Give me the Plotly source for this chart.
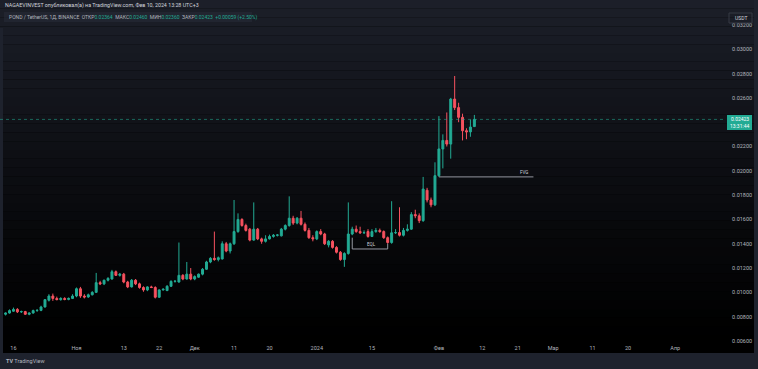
import plotly.graph_objects as go
import pandas as pd

# ---------------- data ----------------
dates = pd.date_range("2023-10-14", periods=120, freq="D")

opens = [0.00820,0.00830,0.00845,0.00860,0.00840,0.00842,0.00820,0.00830,0.00850,0.00852,
         0.00880,0.00935,0.00970,0.00950,0.00940,0.00950,0.00942,0.00950,0.00970,0.01030,
         0.00970,0.00962,0.00980,0.01000,0.01080,0.01070,0.01100,0.01110,0.01170,0.01140,
         0.01150,0.01085,0.01045,0.01100,0.01070,0.01040,0.01020,0.01045,0.01040,0.00960,
         0.01020,0.01015,0.01050,0.01090,0.01085,0.01140,0.01110,0.01150,0.01110,0.01125,
         0.01150,0.01190,0.01250,0.01280,0.01270,0.01275,0.01400,0.01340,0.01400,0.01500,
         0.01600,0.01550,0.01520,0.01430,0.01520,0.01440,0.01420,0.01440,0.01460,0.01470,
         0.01465,0.01520,0.01550,0.01610,0.01570,0.01610,0.01560,0.01510,0.01450,0.01440,
         0.01500,0.01480,0.01390,0.01420,0.01370,0.01330,0.01270,0.01320,0.01480,0.01520,
         0.01500,0.01490,0.01500,0.01460,0.01500,0.01510,0.01500,0.01450,0.01410,0.01490,
         0.01492,0.01470,0.01510,0.01520,0.01640,0.01630,0.01590,0.01840,0.01760,0.01720,
         0.01960,0.02180,0.02250,0.02220,0.02590,0.02520,0.02440,0.02330,0.02320,0.02364]
highs = [0.00835,0.00860,0.00875,0.00870,0.00850,0.00848,0.00835,0.00858,0.00862,0.00890,
         0.00945,0.00985,0.00990,0.00965,0.00960,0.00960,0.00958,0.00985,0.01040,0.01045,
         0.00985,0.00990,0.01010,0.01160,0.01095,0.01105,0.01125,0.01185,0.01180,0.01160,
         0.01160,0.01095,0.01110,0.01110,0.01080,0.01050,0.01050,0.01055,0.01050,0.01025,
         0.01035,0.01060,0.01100,0.01100,0.01410,0.01150,0.01250,0.01200,0.01140,0.01155,
         0.01200,0.01260,0.01290,0.01500,0.01295,0.01420,0.01415,0.01410,0.01760,0.01650,
         0.01610,0.01565,0.01530,0.01740,0.01530,0.01450,0.01470,0.01475,0.01480,0.01480,
         0.01530,0.01560,0.01790,0.01630,0.01620,0.01670,0.01575,0.01530,0.01470,0.01510,
         0.01520,0.01490,0.01430,0.01430,0.01380,0.01340,0.01330,0.01740,0.01540,0.01550,
         0.01540,0.01510,0.01520,0.01520,0.01530,0.01525,0.01510,0.01460,0.01750,0.01520,
         0.01700,0.01530,0.01560,0.01660,0.01680,0.01650,0.01950,0.01860,0.01780,0.02070,
         0.02450,0.02300,0.02480,0.02600,0.02780,0.02560,0.02470,0.02350,0.02420,0.02460]
lows = [0.00810,0.00825,0.00840,0.00830,0.00830,0.00815,0.00812,0.00825,0.00840,0.00845,
        0.00875,0.00925,0.00930,0.00935,0.00932,0.00935,0.00935,0.00945,0.00960,0.00955,
        0.00950,0.00955,0.00975,0.00995,0.01060,0.01060,0.01090,0.01105,0.01135,0.01130,
        0.01075,0.01035,0.01040,0.01060,0.01030,0.01005,0.01010,0.01035,0.00950,0.00955,
        0.01015,0.01010,0.01045,0.01080,0.01080,0.01100,0.01105,0.01100,0.01100,0.01120,
        0.01140,0.01185,0.01240,0.01260,0.01255,0.01270,0.01330,0.01320,0.01390,0.01490,
        0.01540,0.01500,0.01420,0.01425,0.01430,0.01400,0.01410,0.01435,0.01450,0.01460,
        0.01460,0.01510,0.01540,0.01555,0.01560,0.01550,0.01500,0.01440,0.01420,0.01430,
        0.01470,0.01390,0.01370,0.01360,0.01320,0.01260,0.01210,0.01310,0.01470,0.01490,
        0.01480,0.01480,0.01450,0.01455,0.01490,0.01490,0.01440,0.01400,0.01400,0.01480,
        0.01460,0.01460,0.01500,0.01515,0.01610,0.01570,0.01580,0.01740,0.01700,0.01710,
        0.01950,0.02020,0.02200,0.02100,0.02500,0.02400,0.02250,0.02260,0.02280,0.02360]
closes = [0.00830,0.00850,0.00860,0.00840,0.00842,0.00820,0.00830,0.00850,0.00852,0.00880,
          0.00940,0.00970,0.00950,0.00940,0.00950,0.00942,0.00950,0.00970,0.01030,0.00970,
          0.00962,0.00980,0.01000,0.01080,0.01070,0.01100,0.01115,0.01170,0.01140,0.01150,
          0.01085,0.01045,0.01100,0.01070,0.01040,0.01020,0.01045,0.01040,0.00960,0.01020,
          0.01025,0.01050,0.01090,0.01092,0.01140,0.01110,0.01150,0.01110,0.01130,0.01150,
          0.01190,0.01250,0.01280,0.01270,0.01285,0.01400,0.01340,0.01400,0.01500,0.01600,
          0.01550,0.01510,0.01430,0.01520,0.01440,0.01420,0.01440,0.01460,0.01470,0.01472,
          0.01520,0.01550,0.01610,0.01570,0.01610,0.01560,0.01510,0.01450,0.01440,0.01500,
          0.01480,0.01400,0.01420,0.01370,0.01330,0.01270,0.01320,0.01480,0.01520,0.01500,
          0.01490,0.01492,0.01460,0.01500,0.01510,0.01500,0.01450,0.01410,0.01490,0.01492,
          0.01470,0.01510,0.01520,0.01640,0.01630,0.01590,0.01850,0.01760,0.01720,0.01960,
          0.02180,0.02250,0.02220,0.02590,0.02520,0.02440,0.02330,0.02320,0.02360,0.02423]

last_price = 0.02423
fvg_level = 0.0195
fvg_dates = ["2024-02-01", "2024-02-25"]
eql_level = 0.01357
eql_dates = ["2024-01-10", "2024-01-19"]
eql_marks = [0.01450, 0.01400]

y_ticks = [0.006, 0.008, 0.010, 0.012, 0.014, 0.016, 0.018, 0.020, 0.022, 0.026, 0.028, 0.030, 0.032]
x_tick_dates = ["2023-10-16", "2023-11-01", "2023-11-13", "2023-11-22", "2023-12-01", "2023-12-11",
                "2023-12-20", "2024-01-01", "2024-01-15", "2024-02-01", "2024-02-12", "2024-02-21",
                "2024-03-01", "2024-03-11", "2024-03-20", "2024-04-01"]
x_tick_text = ["16", "Ноя", "13", "22", "Дек", "11", "20", "2024", "15", "Фев", "12", "21",
               "Мар", "11", "20", "Апр"]

# ---------------- styling ----------------
UP = "#22ab94"
DOWN = "#f7525f"
TXT = "#b2b5be"
FONT = "Roboto"
W, H = 758, 369
PANE_R = 725  # px right edge of price pane
PANE_B = 343
PANE_T = 10

fig = go.Figure()

fig.add_trace(go.Candlestick(
    x=dates, open=opens, high=highs, low=lows, close=closes,
    increasing=dict(line=dict(color=UP, width=1), fillcolor=UP),
    decreasing=dict(line=dict(color=DOWN, width=1), fillcolor=DOWN),
    whiskerwidth=0, hoverinfo="skip",
))

# FVG line
fig.add_trace(go.Scatter(x=fvg_dates, y=[fvg_level, fvg_level], mode="lines",
                         line=dict(color="#9598a1", width=1), hoverinfo="skip"))
# EQL bracket
fig.add_trace(go.Scatter(x=[eql_dates[0], eql_dates[0], eql_dates[1], eql_dates[1]],
                         y=[eql_marks[0], eql_level, eql_level, eql_marks[1]], mode="lines",
                         line=dict(color="#9598a1", width=1), hoverinfo="skip"))

shapes = []
# gradient background bands
n = 40
for k in range(n):
    t = k / (n - 1)
    r = int(28 * (1 - t) ** 1.2)
    g = int(31 * (1 - t) ** 1.2)
    b = int(41 * (1 - t) ** 1.2)
    shapes.append(dict(type="rect", xref="paper", yref="paper", x0=0, x1=1,
                       y0=1 - (k + 1) / n * 353 / H, y1=1 - k / n * 353 / H,
                       fillcolor=f"rgb({r},{g},{b})", line=dict(width=0), layer="below"))
# frame
frame = "#1e222d"
shapes.append(dict(type="rect", xref="paper", yref="paper", x0=0, x1=1, y0=0, y1=1 - 353 / H,
                   fillcolor=frame, line=dict(width=0), layer="above"))
shapes.append(dict(type="rect", xref="paper", yref="paper", x0=754 / W, x1=1, y0=0, y1=1,
                   fillcolor=frame, line=dict(width=0), layer="above"))
shapes.append(dict(type="rect", xref="paper", yref="paper", x0=0, x1=3 / W, y0=1 - 353 / H, y1=1 - 28 / H,
                   fillcolor=frame, line=dict(width=0), layer="above"))
# last price dotted line
shapes.append(dict(type="line", xref="paper", yref="y", x0=0, x1=PANE_R / W,
                   y0=last_price, y1=last_price,
                   line=dict(color="rgba(34,171,148,0.55)", width=1, dash="dot")))
# legend box behind second header line
shapes.append(dict(type="rect", xref="paper", yref="paper", x0=4 / W, x1=252 / W,
                   y0=1 - 22 / H, y1=1 - 12 / H, fillcolor="rgba(40,44,56,0.55)",
                   line=dict(width=0), layer="below"))
# price label box
shapes.append(dict(type="rect", xref="paper", yref="paper", x0=727 / W, x1=752 / W,
                   y0=1 - 130 / H, y1=1 - 115 / H, fillcolor=UP, line=dict(width=0), layer="above"))
# USDT box
shapes.append(dict(type="rect", xref="paper", yref="paper", x0=729 / W, x1=752 / W,
                   y0=1 - 23 / H, y1=1 - 13 / H, fillcolor="rgba(0,0,0,0)",
                   line=dict(color="#363a45", width=1), layer="above"))

ann = []
def px_ann(text, x, y, size=5.2, color=TXT, xanchor="left"):
    ann.append(dict(text=text, x=x / W, y=1 - y / H, xref="paper", yref="paper",
                    xanchor=xanchor, yanchor="middle", showarrow=False,
                    font=dict(family=FONT, size=size, color=color)))

px_ann("NAGAEVINVEST опубликовал(а) на TradingView.com, Фев 10, 2024 13:28 UTC+3", 3, 6, size=5.3, color="#d1d4dc")
sp = "&nbsp;&nbsp;"
g = lambda s: f"<span style='color:{UP}'>{s}</span>"
px_ann("POND / TetherUS, 1Д, BINANCE" + sp + "ОТКР" + g("0.02364") + sp + "МАКС" + g("0.02460") + sp +
       "МИН" + g("0.02360") + sp + "ЗАКР" + g("0.02423") + sp + g("+0.00059 (+2.50%)"),
       7, 17, size=5.0, color="#b2b5be")
px_ann("USDT", 740.5, 18, size=5, color="#d1d4dc", xanchor="center")
px_ann("0.02423", 739.5, 119, size=5, color="#ffffff", xanchor="center")
px_ann("13:31:44", 739.5, 126, size=5, color="#ffffff", xanchor="center")
px_ann("<b>TV</b> TradingView", 4, 361, size=5.5, color="#b2b5be")
# FVG / EQL labels
ann.append(dict(text="FVG", x="2024-02-24", y=fvg_level, xref="x", yref="y", xanchor="right",
                yanchor="bottom", showarrow=False, yshift=0,
                font=dict(family=FONT, size=4.5, color="#d1d4dc")))
ann.append(dict(text="EQL", x="2024-01-15", y=eql_level, xref="x", yref="y", xanchor="center",
                yanchor="bottom", showarrow=False,
                font=dict(family=FONT, size=4.5, color="#d1d4dc")))

fig.update_layout(
    width=W, height=H, margin=dict(l=0, r=0, t=0, b=0),
    paper_bgcolor="#000000", plot_bgcolor="rgba(0,0,0,0)",
    showlegend=False, shapes=shapes, annotations=ann,
    xaxis=dict(domain=[0, PANE_R / W], type="date",
               range=["2023-10-12 14:00", "2024-04-13 15:00"],
               tickvals=x_tick_dates, ticktext=x_tick_text,
               tickfont=dict(family=FONT, size=5.5, color=TXT),
               showgrid=False, zeroline=False, showline=False, ticks="",
               rangeslider=dict(visible=False), fixedrange=True),
    yaxis=dict(domain=[1 - PANE_B / H, 1 - PANE_T / H], side="right",
               range=[0.005835, 0.03323], tickvals=y_ticks, tickformat=".5f",
               tickfont=dict(family=FONT, size=5.5, color=TXT),
               showgrid=False, zeroline=False, showline=False, ticks="outside",
               ticklen=5, tickcolor="rgba(0,0,0,0)", fixedrange=True),
)

fig.write_html("out.html", post_script="document.body.style.margin='0';document.body.style.overflow='hidden';",
               config={"displayModeBar": False})
